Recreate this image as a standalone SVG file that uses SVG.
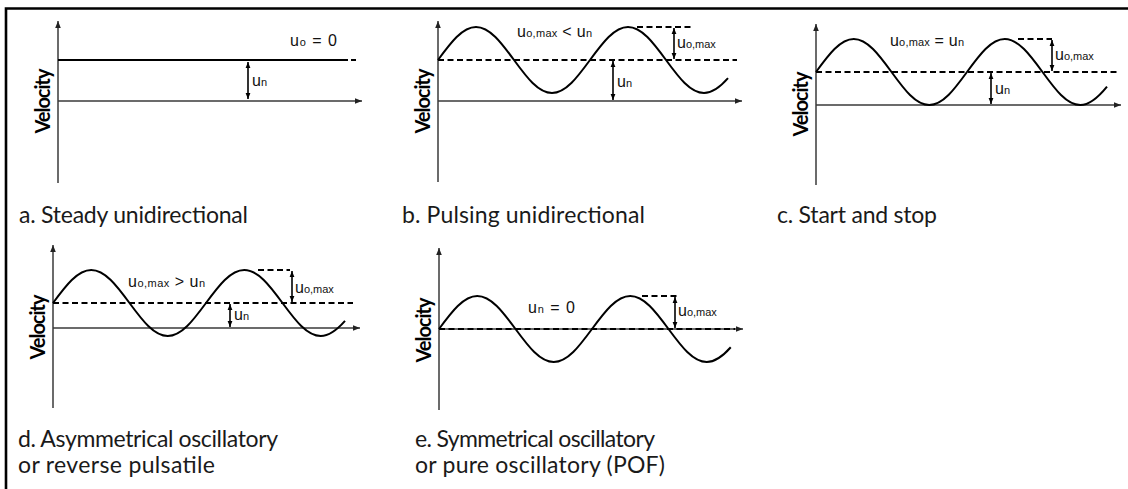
<svg xmlns="http://www.w3.org/2000/svg" width="1128" height="489" viewBox="0 0 1128 489">
<style>
.frame{fill:none;stroke:#000;stroke-width:2.6}
.axis{fill:none;stroke:#3a3a3a;stroke-width:1.5}
.wave{fill:none;stroke:#000;stroke-width:2}
.dash{fill:none;stroke:#000;stroke-width:2;stroke-dasharray:6 3.5}
.solid{fill:none;stroke:#000;stroke-width:2}
.dim{fill:none;stroke:#000;stroke-width:1.6}
.lbl{font-family:"Liberation Sans",Arial,sans-serif;font-size:16px;fill:#111}
.s{font-size:11px}
.title{font-family:Lato,"Open Sans",sans-serif;font-size:23px;fill:#1a1a1a}
.vel{font-family:Lato,"Open Sans",sans-serif;font-size:20px;font-weight:bold;fill:#000}
</style>
<defs>
<marker id="ax" viewBox="0 0 10 10" refX="10" refY="5" markerWidth="7" markerHeight="7" markerUnits="userSpaceOnUse" orient="auto-start-reverse"><path d="M0,1 L10,5 L0,9 z" fill="#222"/></marker>
<marker id="dm" viewBox="0 0 10 10" refX="10" refY="5" markerWidth="6" markerHeight="6" markerUnits="userSpaceOnUse" orient="auto-start-reverse"><path d="M0,1 L10,5 L0,9 z" fill="#000"/></marker>
</defs>
<path class="frame" d="M6,489 L6,8.5 L1128,8.5"/>

<g id="panel-a">
<line class="axis" x1="58" y1="183" x2="58" y2="21" marker-end="url(#ax)"/>
<line class="axis" x1="58" y1="101" x2="362" y2="101" marker-end="url(#ax)"/>
<line class="solid" x1="58" y1="60" x2="348" y2="60"/>
<line class="solid" x1="351" y1="60" x2="356" y2="60"/>
<line class="dim" x1="248" y1="62" x2="248" y2="99" marker-start="url(#dm)" marker-end="url(#dm)"/>
<text class="lbl" x="252" y="86">u<tspan class="s">n</tspan></text>
<text class="lbl" x="290" y="46" textLength="47">u<tspan class="s">o</tspan> = 0</text>
<text class="vel" transform="translate(50,101) rotate(-90)" text-anchor="middle" textLength="65">Velocity</text>
<text class="title" x="19" y="223" textLength="229">a. Steady unidirectional</text>
</g>

<g id="panel-b">
<line class="axis" x1="438" y1="182" x2="438" y2="21" marker-end="url(#ax)"/>
<line class="axis" x1="438" y1="101" x2="742" y2="101" marker-end="url(#ax)"/>
<line class="dash" x1="438" y1="60" x2="737" y2="60"/>
<path class="wave" d="M438,60 C450.7,42.67 462.32,27 476,27 C489.68,27 501.3,42.67 514,60 C526.7,77.33 538.32,93 552,93 C565.68,93 577.3,77.33 590,60 C602.7,42.67 614.32,27 628,27 C641.68,27 653.3,42.67 666,60 C678.7,77.33 690.32,93 704,93 C712,93 720,87.24 728,78.1"/>
<line class="dash" x1="637" y1="27" x2="692" y2="27"/>
<line class="dim" x1="674" y1="28" x2="674" y2="59" marker-start="url(#dm)" marker-end="url(#dm)"/>
<text class="lbl" x="677" y="48">u<tspan class="s">o,max</tspan></text>
<line class="dim" x1="613" y1="61" x2="613" y2="100" marker-start="url(#dm)" marker-end="url(#dm)"/>
<text class="lbl" x="617" y="87">u<tspan class="s">n</tspan></text>
<text class="lbl" x="517" y="37" textLength="75">u<tspan class="s">o,max</tspan> &lt; u<tspan class="s">n</tspan></text>
<text class="vel" transform="translate(430,101) rotate(-90)" text-anchor="middle" textLength="65">Velocity</text>
<text class="title" x="402" y="223" textLength="243">b. Pulsing unidirectional</text>
</g>

<g id="panel-c">
<line class="axis" x1="816" y1="185" x2="816" y2="24" marker-end="url(#ax)"/>
<line class="axis" x1="816" y1="105" x2="1121" y2="105" marker-end="url(#ax)"/>
<line class="dash" x1="816" y1="72" x2="1118" y2="72"/>
<path class="wave" d="M816,72 C828.62,54.67 840.16,39 853.75,39 C867.34,39 878.88,54.67 891.5,72 C904.12,89.33 915.66,105 929.25,105 C942.84,105 954.38,89.33 967,72 C979.62,54.67 991.16,39 1004.75,39 C1018.34,39 1029.88,54.67 1042.5,72 C1055.12,89.33 1066.66,105 1080.25,105 C1089.17,105 1098.08,97.56 1107,86.57"/>
<line class="dash" x1="1018" y1="39" x2="1052" y2="39"/>
<line class="dim" x1="1052" y1="40" x2="1052" y2="71" marker-start="url(#dm)" marker-end="url(#dm)"/>
<text class="lbl" x="1055" y="60">u<tspan class="s">o,max</tspan></text>
<line class="dim" x1="991" y1="73" x2="991" y2="104" marker-start="url(#dm)" marker-end="url(#dm)"/>
<text class="lbl" x="995" y="94">u<tspan class="s">n</tspan></text>
<text class="lbl" x="890" y="46" textLength="74">u<tspan class="s">o,max</tspan> = u<tspan class="s">n</tspan></text>
<text class="vel" transform="translate(808,104) rotate(-90)" text-anchor="middle" textLength="65">Velocity</text>
<text class="title" x="777" y="223" textLength="160">c. Start and stop</text>
</g>

<g id="panel-d">
<line class="axis" x1="53" y1="408" x2="53" y2="245" marker-end="url(#ax)"/>
<line class="axis" x1="53" y1="328" x2="360" y2="328" marker-end="url(#ax)"/>
<line class="dash" x1="53" y1="303" x2="353" y2="303"/>
<path class="wave" d="M53,303 C65.79,285.67 77.48,270 91.25,270 C105.02,270 116.71,285.67 129.5,303 C142.29,320.33 153.98,336 167.75,336 C181.52,336 193.21,320.33 206,303 C218.79,285.67 230.48,270 244.25,270 C258.02,270 269.71,285.67 282.5,303 C295.29,320.33 306.98,336 320.75,336 C328.83,336 336.92,330.14 345,320.95"/>
<line class="dash" x1="258" y1="270" x2="290" y2="270"/>
<line class="dim" x1="292" y1="271" x2="292" y2="302" marker-start="url(#dm)" marker-end="url(#dm)"/>
<text class="lbl" x="295" y="293">u<tspan class="s">o,max</tspan></text>
<line class="dim" x1="230" y1="304" x2="230" y2="327" marker-start="url(#dm)" marker-end="url(#dm)"/>
<text class="lbl" x="234" y="320">u<tspan class="s">n</tspan></text>
<text class="lbl" x="128" y="287" textLength="77">u<tspan class="s">o,max</tspan> &gt; u<tspan class="s">n</tspan></text>
<text class="vel" transform="translate(45,327) rotate(-90)" text-anchor="middle" textLength="65">Velocity</text>
<text class="title" x="18" y="447" textLength="260">d. Asymmetrical oscillatory</text>
<text class="title" x="18" y="473" textLength="197">or reverse pulsatile</text>
</g>

<g id="panel-e">
<line class="axis" x1="439" y1="410" x2="439" y2="248" marker-end="url(#ax)"/>
<line class="axis" x1="439" y1="329" x2="743" y2="329" marker-end="url(#ax)"/>
<line class="dash" x1="439" y1="329" x2="735" y2="329"/>
<path class="wave" d="M439,329 C451.79,311.67 463.48,296 477.25,296 C491.02,296 502.71,311.67 515.5,329 C528.29,346.33 539.98,362 553.75,362 C567.52,362 579.21,346.33 592,329 C604.79,311.67 616.48,296 630.25,296 C644.02,296 655.71,311.67 668.5,329 C681.29,346.33 692.98,362 706.75,362 C714.75,362 722.75,356.27 730.75,347.23"/>
<line class="dash" x1="642" y1="296" x2="678" y2="296"/>
<line class="dim" x1="675" y1="297" x2="675" y2="328" marker-start="url(#dm)" marker-end="url(#dm)"/>
<text class="lbl" x="678" y="316">u<tspan class="s">o,max</tspan></text>
<text class="lbl" x="528" y="313" textLength="47">u<tspan class="s">n</tspan> = 0</text>
<text class="vel" transform="translate(431,330) rotate(-90)" text-anchor="middle" textLength="65">Velocity</text>
<text class="title" x="415" y="447" textLength="240">e. Symmetrical oscillatory</text>
<text class="title" x="415" y="473" textLength="250">or pure oscillatory (POF)</text>
</g>
</svg>
